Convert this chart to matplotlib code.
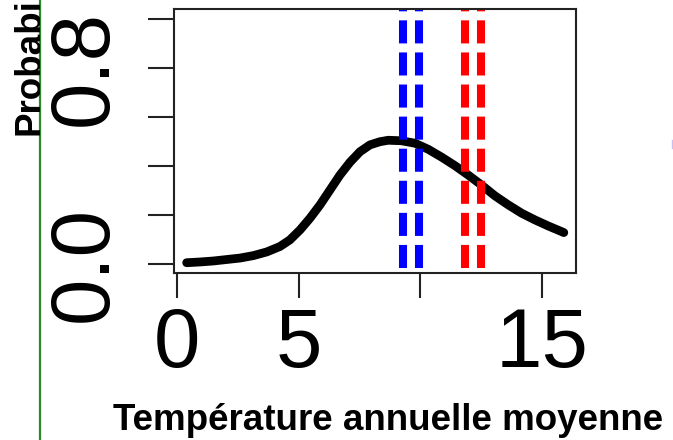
import matplotlib
matplotlib.use("Agg")
import matplotlib.pyplot as plt
from matplotlib.lines import Line2D
from matplotlib.transforms import Bbox, TransformedBbox

plt.rcParams['font.family'] = ['Liberation Sans', 'DejaVu Sans']
plt.rcParams['lines.scale_dashes'] = False

# Density curve
temp = [0.40, 0.95, 1.49, 2.04, 2.59, 3.14, 3.69, 4.23, 4.64, 5.06, 5.47, 5.88,
        6.29, 6.70, 7.11, 7.52, 7.93, 8.34, 8.68, 9.23, 9.78, 10.33, 10.88,
        11.43, 11.97, 12.52, 13.07, 13.62, 14.17, 14.71, 15.26, 15.81, 15.90]
prob = [0.005, 0.008, 0.012, 0.018, 0.024, 0.034, 0.049, 0.071, 0.098, 0.139,
        0.187, 0.241, 0.302, 0.363, 0.415, 0.458, 0.486, 0.499, 0.505, 0.503,
        0.493, 0.468, 0.436, 0.401, 0.363, 0.322, 0.278, 0.241, 0.207, 0.180,
        0.155, 0.132, 0.128]
blue_lines = [9.30, 9.96]
red_lines = [11.84, 12.49]

xticks = [0, 5, 10, 15]
xticklabels = ['0', '5', '', '15']
yticks = [0.0, 0.2, 0.4, 0.6, 0.8, 1.0]
yticklabels = ['0.0', '', '', '', '0.8', '']
xlabel = 'Température annuelle moyenne'
ylabel = 'Probabilité'

W, H = 673, 440
fig = plt.figure(figsize=(W / 100, H / 100), dpi=100)
ax = fig.add_axes([174 / W, (H - 273) / H, (575.5 - 174) / W, (273 - 9) / H])

ylo, yhi = -0.037, 1.041
ax.set_xlim(-0.12, 16.38)
ax.set_ylim(ylo, yhi)

ax.plot(temp, prob, color='black', lw=6.3, solid_capstyle='round', solid_joinstyle='round')
for xv in blue_lines:
    ax.plot([xv, xv], [ylo, yhi], color='#0000ff', lw=5.8,
            linestyle=(19.5, (16.6, 6.5)), dash_capstyle='butt')
for xv in red_lines:
    ax.plot([xv, xv], [ylo, yhi], color='#ff0000', lw=5.8,
            linestyle=(19.5, (16.6, 6.5)), dash_capstyle='butt')

for s in ax.spines.values():
    s.set_linewidth(1.5)
    s.set_color('#222222')

ax.set_xticks(xticks)
ax.set_xticklabels(xticklabels, fontsize=60)
ax.set_yticks(yticks)
ax.set_yticklabels(yticklabels, fontsize=60, rotation=90, va='center')
ax.tick_params(axis='x', length=18, width=1.5, pad=6, color='#222222')
ax.tick_params(axis='y', length=18.5, width=1.5, pad=18, color='#222222')

fig.text(388 / W, (H - 430) / H, xlabel, fontsize=26.5, fontweight='bold',
         ha='center', va='baseline')

t = fig.text(40 / W, (H - 135) / H, ylabel, fontsize=26.5, fontweight='bold',
             rotation=90, rotation_mode='anchor', ha='left', va='baseline')
t.set_clip_box(TransformedBbox(Bbox([[0, 0], [39.5 / W, 1]]), fig.transFigure))
t.set_clip_on(True)

fig.add_artist(Line2D([39.5 / W, 39.5 / W], [0, 1], transform=fig.transFigure,
                      color='#2a8a2a', lw=1.6))
fig.add_artist(Line2D([671.5 / W, 671.5 / W], [(H - 148) / H, (H - 140) / H],
                      transform=fig.transFigure, color='#c8c0f0', lw=1.0))

fig.savefig('out.png', dpi=100)
